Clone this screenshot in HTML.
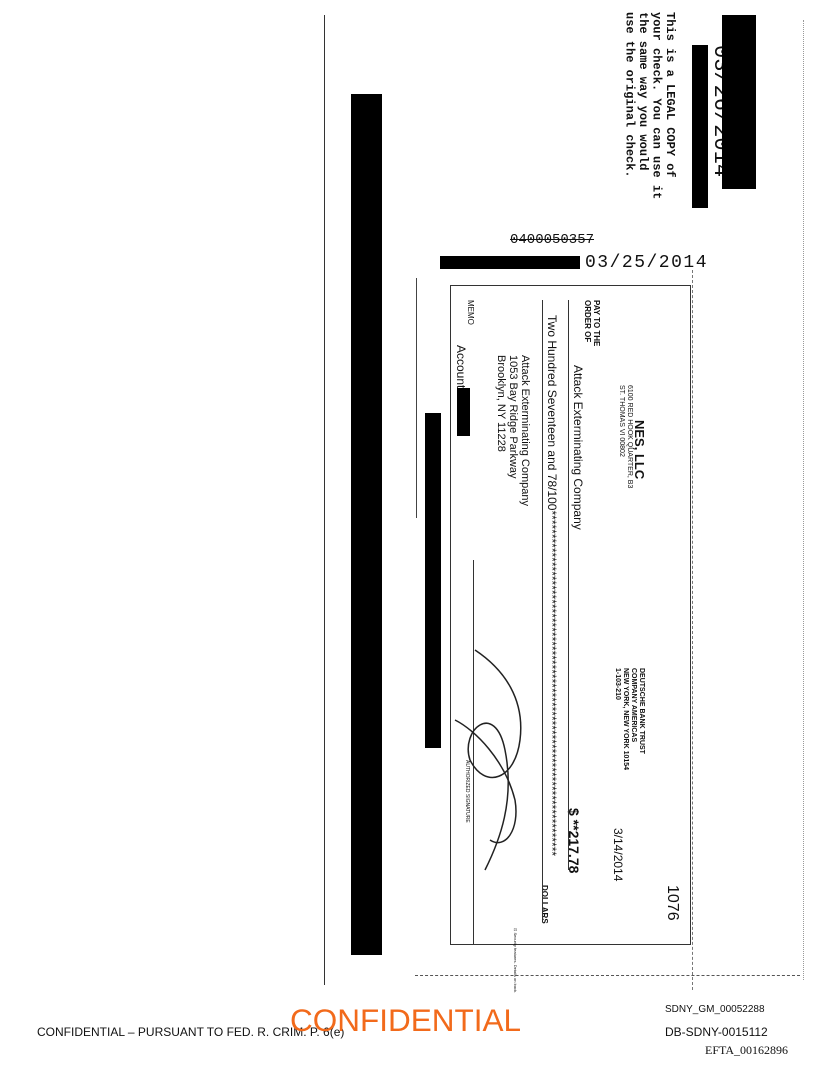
<!DOCTYPE html>
<html><head><meta charset="utf-8"><style>
body{margin:0;width:816px;height:1073px;background:#fff;position:relative;overflow:hidden;font-family:"Liberation Sans",sans-serif;color:#111}
.a{position:absolute}
.v{position:absolute;writing-mode:vertical-rl;white-space:nowrap;line-height:1}
.b{position:absolute;background:#000}
.m{font-family:"Liberation Mono",monospace}
</style></head><body>
<div class="a" style="left:324px;top:15px;width:1px;height:970px;background:#333"></div>
<div class="a" style="left:803px;top:20px;width:1px;height:960px;border-left:1px dotted #999"></div>
<div class="b" style="left:351px;top:94px;width:31px;height:861px"></div>
<div class="b" style="left:425px;top:413px;width:16px;height:335px"></div>

<div class="v m" style="left:709px;top:45px;font-size:22px;">03/26/2014</div>
<div class="b" style="left:722px;top:15px;width:34px;height:174px"></div>
<div class="b" style="left:692px;top:45px;width:16px;height:163px"></div>
<div class="v m" style="left:622px;top:12px;font-size:12px;line-height:13.5px;height:200px;font-weight:bold;">This is a LEGAL COPY of<br>your check. You can use it<br>the same way you would<br>use the original check.</div>

<div class="a m" style="left:510px;top:233px;font-size:14px;line-height:14px;text-decoration:line-through;">0400050357</div>
<div class="b" style="left:440px;top:256px;width:140px;height:13px"></div>
<div class="a m" style="left:585px;top:254px;font-size:18px;line-height:18px;letter-spacing:1.5px;">03/25/2014</div>
<div class="a" style="left:416px;top:278px;width:1px;height:240px;background:#444"></div>
<div class="a" style="left:415px;top:975px;width:385px;height:1px;border-top:1px dashed #555"></div>
<div class="a" style="left:692px;top:270px;width:1px;height:720px;border-left:1px dashed #777"></div>

<div class="a" style="left:450px;top:285px;width:241px;height:660px;border:1.5px solid #333;box-sizing:border-box"></div>
<div class="v" style="left:633px;top:420px;font-size:13px;font-weight:bold;">NES, LLC</div>
<div class="v" style="left:617px;top:385px;font-size:7px;line-height:8px;">6100 RED HOOK QUARTER, B3<br>ST. THOMAS VI 00802</div>
<div class="v" style="left:613px;top:668px;font-size:7px;line-height:8px;font-weight:bold;">DEUTSCHE BANK TRUST<br>COMPANY AMERICAS<br>NEW YORK, NEW YORK 10154<br>1-103-210</div>
<div class="v" style="left:664px;top:885px;font-size:16px;">1076</div>
<div class="v" style="left:612px;top:828px;font-size:12px;">3/14/2014</div>
<div class="v" style="left:567px;top:808px;font-size:14px;font-weight:bold;">$ **217.78</div>
<div class="v" style="left:583px;top:300px;font-size:8px;line-height:9px;font-weight:bold;">PAY TO THE<br>ORDER OF</div>
<div class="v" style="left:572px;top:365px;font-size:12px;">Attack Exterminating Company</div>
<div class="a" style="left:568px;top:300px;width:1px;height:570px;background:#333"></div>
<div class="v" style="left:546px;top:315px;font-size:12px;">Two Hundred Seventeen and 78/100**************************************************************************</div>
<div class="v" style="left:540px;top:885px;font-size:8px;font-weight:bold;">DOLLARS</div>
<div class="a" style="left:542px;top:300px;width:1px;height:620px;background:#333"></div>
<div class="v" style="left:495px;top:355px;font-size:11px;line-height:12px;">Attack Exterminating Company<br>1053 Bay Ridge Parkway<br>Brooklyn, NY 11228</div>
<div class="v" style="left:466px;top:300px;font-size:8px;">MEMO</div>
<div class="v" style="left:455px;top:345px;font-size:12px;">Account</div>
<div class="b" style="left:457px;top:388px;width:13px;height:48px"></div>
<div class="a" style="left:473px;top:560px;width:1px;height:385px;background:#333"></div>
<div class="v" style="left:464px;top:760px;font-size:5px;">AUTHORIZED SIGNATURE</div>
<div class="v" style="left:513px;top:928px;font-size:4px;">⊡ Security features. Details on back.</div>
<svg class="a" style="left:445px;top:640px" width="90" height="240" viewBox="0 0 90 240"><path d="M30 10 C60 30,80 60,75 100 C70 140,40 150,25 120 C15 90,50 60,60 110 C70 160,55 200,40 230" fill="none" stroke="#222" stroke-width="1.5"/><path d="M10 80 C30 90,60 120,70 160 C75 190,60 210,45 200" fill="none" stroke="#222" stroke-width="1.5"/></svg>

<div class="a" style="left:665px;top:1004px;font-size:10px;">SDNY_GM_00052288</div>
<div class="a" style="left:37px;top:1025px;font-size:12px;">CONFIDENTIAL – PURSUANT TO FED. R. CRIM. P. 6(e)</div>
<div class="a" style="left:290px;top:1002px;font-size:31.5px;color:#f26a1b;">CONFIDENTIAL</div>
<div class="a" style="left:665px;top:1025px;font-size:12px;">DB-SDNY-0015112</div>
<div class="a" style="left:705px;top:1043px;font-size:12px;font-family:'Liberation Serif',serif;">EFTA_00162896</div>
</body></html>
